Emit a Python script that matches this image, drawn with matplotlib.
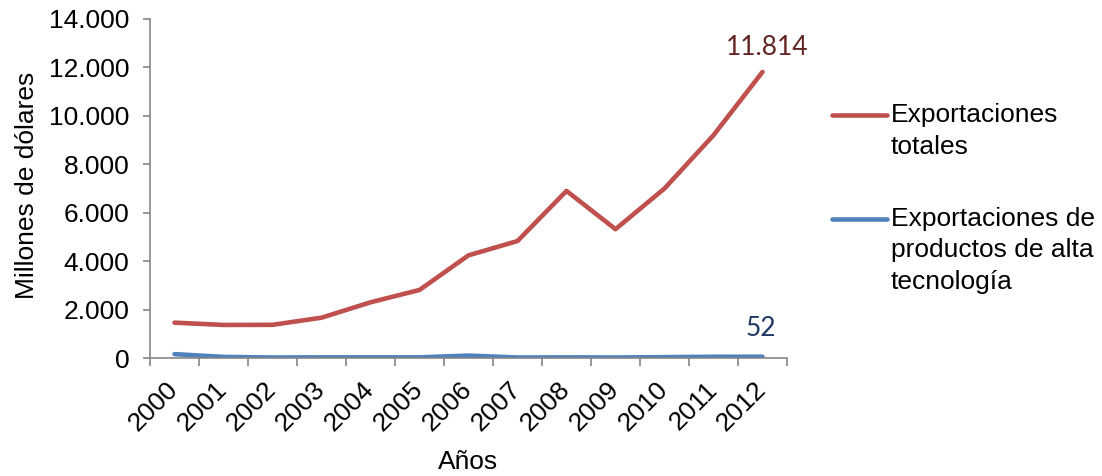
import numpy as np
import matplotlib.pyplot as plt
from matplotlib.lines import Line2D

plt.rcParams['font.family'] = ['Liberation Sans', 'DejaVu Sans']

years = ['2000', '2001', '2002', '2003', '2004', '2005', '2006',
         '2007', '2008', '2009', '2010', '2011', '2012']
totales = [1460, 1365, 1370, 1665, 2300, 2810, 4240, 4830, 6900, 5320, 7000, 9200, 11814]
alta_tec = [160, 45, 20, 25, 25, 25, 100, 20, 25, 20, 35, 50, 52]

red = '#C0504D'
blue = '#4F81BD'
grey = '#868686'
fs = 19

fig = plt.figure(figsize=(11.02, 4.76), dpi=100)
ax = fig.add_axes([150/1102, 1 - 358/476, (787-150)/1102, (358-19)/476])

x = np.arange(len(years))
ax.plot(x, totales, color=red, lw=3.3, solid_capstyle='round', solid_joinstyle='round')
ax.plot(x, alta_tec, color=blue, lw=3.3, solid_capstyle='round', solid_joinstyle='round')

ax.set_xlim(-0.5, len(years) - 0.5)
ax.set_ylim(0, 14000)
ax.set_yticks(np.arange(0, 14001, 2000))
ax.set_yticklabels(['0' if v == 0 else f'{v // 1000}.000' for v in range(0, 14001, 2000)])

# boundaries get tick marks, centres get the labels
ax.set_xticks(np.arange(-0.5, len(years), 1))
ax.set_xticklabels([])
ax.set_xticks(x, minor=True)
ax.set_xticklabels(years, minor=True, rotation=45, ha='right', va='center',
                   rotation_mode='anchor', fontsize=fs)
ax.tick_params(axis='x', which='minor', length=0, pad=20)
ax.tick_params(axis='x', which='major', length=6, width=1.2, color=grey)
ax.tick_params(axis='y', length=5, width=1.2, color=grey, labelsize=fs, pad=10)

for s in ['top', 'right']:
    ax.spines[s].set_visible(False)
for s in ['left', 'bottom']:
    ax.spines[s].set_color(grey)
    ax.spines[s].set_linewidth(1.2)

ax.set_xlabel('Años', fontsize=fs, labelpad=10)
fig.text(27/1102, 1 - 185/476, 'Millones de dólares', rotation=90,
         ha='center', va='center', fontsize=fs)

# value labels on the last point
ax.annotate(f'{totales[-1]/1000:.3f}', (x[-1], totales[-1]), xytext=(5, 24),
            textcoords='offset pixels', ha='center', va='center',
            color='#632523', fontsize=19, family='Lato')
ax.annotate(str(alta_tec[-1]), (x[-1], alta_tec[-1]), xytext=(-2, 28),
            textcoords='offset pixels', ha='center', va='center',
            color='#1F3864', fontsize=19, family='Lato')

# legend drawn by hand so the line sits on the first text line
legend = [(red, ['Exportaciones', 'totales'], 115),
          (blue, ['Exportaciones de', 'productos de alta', 'tecnología'], 219)]
for col, lines, ytop in legend:
    fig.add_artist(Line2D([832/1102, 887/1102], [1 - ytop/476] * 2, color=col, lw=3.3,
                          solid_capstyle='round'))
    for i, t in enumerate(lines):
        fig.text(891/1102, 1 - (ytop + i * 31.5)/476, t, ha='left', va='center', fontsize=fs)

fig.savefig('out.png', dpi=100)
